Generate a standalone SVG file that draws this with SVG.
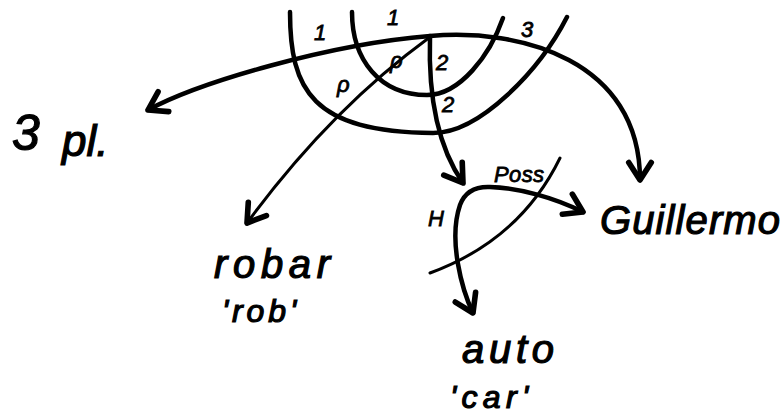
<svg xmlns="http://www.w3.org/2000/svg" width="783" height="414" viewBox="0 0 783 414">
<style>
.ln{fill:none;stroke:#000;stroke-linecap:round;stroke-linejoin:round}
.w4{stroke-width:4.5}
.w3{stroke-width:3}
.big{font-family:"Liberation Sans",Arial,sans-serif;font-style:italic;fill:#000;stroke:#000;stroke-width:1.2}
.lab{font-family:"Liberation Sans",Arial,sans-serif;font-style:italic;fill:#000;stroke:#000;stroke-width:0.8;font-size:22px}
</style>
<defs>
<marker id="ah" markerUnits="userSpaceOnUse" markerWidth="30" markerHeight="30" refX="14" refY="0" viewBox="-2 -12 20 24" orient="auto-start-reverse">
<path d="M0,-9 L14,0 L0,9" fill="none" stroke="#000" stroke-width="4.5" stroke-linecap="round" stroke-linejoin="round"/>
</marker>
</defs>
<rect width="783" height="414" fill="#fff"/>
<g id="connectors">
<path class="ln w4" d="M430,36 C330,44 200,82 148,110" marker-end="url(#ah)"/>
<path class="ln w4" d="M430,36 C520,28 640,60 640,180" marker-end="url(#ah)"/>
<path class="ln w4" d="M290,12 C290,90 312,132 433,133 C480,133 540,70 567,17"/>
<path class="ln w4" d="M352,12 C352,60 380,95 427,95 C460,95 490,55 503,18"/>
<path class="ln w3" d="M430,37 Q330,110 247,223" marker-end="url(#ah)"/>
<path class="ln w4" d="M430,37 C428,100 440,150 463,183" marker-end="url(#ah)"/>
<path class="ln w4" d="M473,313 C462,290 448,240 460,205 Q467,186 490,187 C520,188 555,198 583,212" marker-start="url(#ah)" marker-end="url(#ah)"/>
<path class="ln w3" d="M430,273 Q520,240 560,158"/>
</g>
<g id="labels">
<text class="lab" x="314" y="40">1</text>
<text class="lab" x="387" y="25">1</text>
<text class="lab" x="390" y="68">ρ</text>
<text class="lab" x="337" y="92">ρ</text>
<text class="lab" x="436" y="70">2</text>
<text class="lab" x="442" y="112">2</text>
<text class="lab" x="521" y="37">3</text>
<text class="lab" x="494" y="182" font-size="19" textLength="50">Poss</text>
<text class="lab" x="428" y="226">H</text>
</g>
<g id="node-3pl">
<text class="big" x="12" y="150" font-size="50">3 <tspan x="62" y="156" font-size="44">pl.</tspan></text>
</g>
<g id="node-guillermo">
<text class="big" x="600" y="234" font-size="40" textLength="180">Guillermo</text>
</g>
<g id="node-robar">
<text class="big" x="214" y="278" font-size="40" textLength="116">robar</text>
<text class="big" x="222" y="322" font-size="32" textLength="74">'rob'</text>
</g>
<g id="node-auto">
<text class="big" x="462" y="363" font-size="40" textLength="92">auto</text>
<text class="big" x="450" y="408" font-size="32" textLength="78">'car'</text>
</g>
</svg>
